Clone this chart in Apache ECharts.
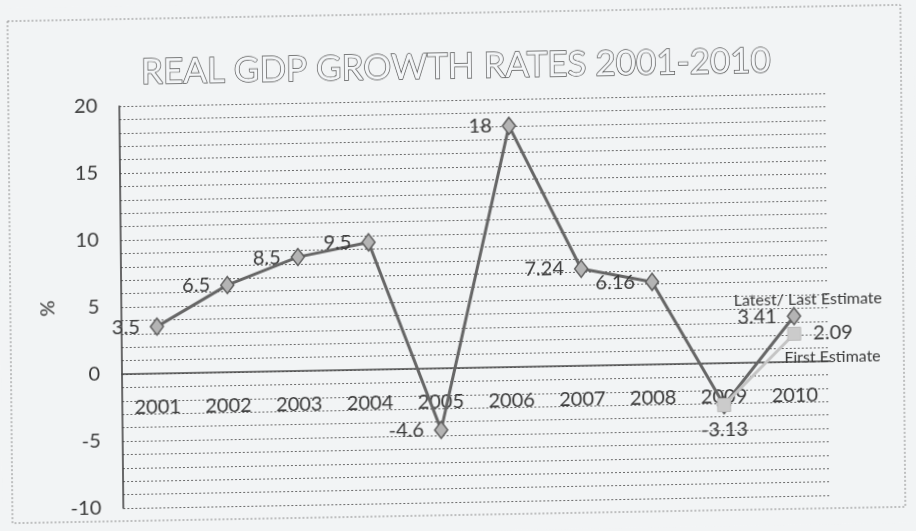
<!DOCTYPE html>
<html>
<head>
<meta charset="utf-8">
<script src="https://cdn.jsdelivr.net/npm/echarts@6/dist/echarts.min.js"></script>
<style>
  html, body { margin: 0; padding: 0; background: #f2f4f5; overflow: hidden; }
  #main {
    position: absolute; left: 0; top: 0; width: 916px; height: 531px;
    /* the scan is slightly tilted: right side higher, bottom leaning right */
    transform-origin: 458px 265px;
    transform: matrix(1, -0.0183, 0.010, 1, 0, 0);
  }
</style>
</head>
<body>
<div id="main"></div>
<script>
var years = ['2001', '2002', '2003', '2004', '2005', '2006', '2007', '2008', '2009', '2010'];
var latestEstimate = [3.5, 6.5, 8.5, 9.5, -4.6, 18, 7.24, 6.16, -3.13, 3.41];
var firstEstimate = [null, null, null, null, null, null, null, null, -3.13, 2.09];

var font = 'Lato, "Open Sans", sans-serif';

var latestData = latestEstimate.map(function (v, i) {
    // the 2009 point sits under the first-estimate square; its label is drawn there
    if (i === 8) return { value: v, label: { show: false } };
    return v;
});
var firstData = firstEstimate.map(function (v, i) {
    if (v === null) return null;
    if (i === 8) return { value: v, label: { position: 'bottom', distance: 8 } };
    return { value: v, label: { position: 'right', distance: 12 } };
});

var myChart = echarts.init(document.getElementById('main'));

myChart.setOption({
    backgroundColor: '#f2f4f5',
    animation: false,
    title: {
        text: 'REAL GDP GROWTH RATES 2001-2010',
        left: 'center',
        top: 44,
        textStyle: {
            fontFamily: font,
            fontSize: 35,
            fontWeight: 'normal',
            color: '#f4f6f8',
            textBorderColor: '#555',
            textBorderWidth: 1.4
        }
    },
    graphic: [{
        type: 'rect',
        shape: { x: 10, y: 13, width: 893, height: 502 },
        style: { fill: 'none', stroke: '#8a8a8a', lineWidth: 1, lineDash: [2, 2] },
        silent: true,
        z: -1
    }],
    grid: {
        left: 121,
        top: 100,
        width: 708,
        height: 402,
        outerBoundsMode: 'none'
    },
    xAxis: {
        type: 'category',
        data: years,
        boundaryGap: true,
        position: 'bottom',
        offset: -134,
        axisLine: { onZero: false, lineStyle: { color: '#4a4a4a', width: 1.5 } },
        axisTick: { show: false },
        axisLabel: { margin: 24, fontFamily: font, fontSize: 20, color: '#3a3a3a' },
        splitLine: { show: false }
    },
    yAxis: {
        type: 'value',
        min: -10,
        max: 20,
        interval: 5,
        name: '%',
        nameLocation: 'middle',
        nameGap: 62,
        nameRotate: 90,
        nameTextStyle: { fontFamily: font, fontSize: 20, color: '#3a3a3a' },
        axisLine: { show: true, lineStyle: { color: '#3a3a3a', width: 1.5 } },
        axisTick: { show: false },
        axisLabel: { margin: 22, fontFamily: font, fontSize: 20, color: '#3a3a3a' },
        splitLine: { show: true, lineStyle: { color: '#6a6a6a', type: [2, 2], width: 1 } },
        minorTick: { show: false, splitNumber: 5 },
        minorSplitLine: { show: true, lineStyle: { color: '#6a6a6a', type: [2, 2], width: 1 } }
    },
    series: [{
        name: 'Latest/ Last Estimate',
        type: 'line',
        data: latestData,
        symbol: 'diamond',
        symbolSize: [13, 17],
        lineStyle: { color: '#666', width: 3 },
        itemStyle: { color: '#b4b4b4', borderColor: '#5e5e5e', borderWidth: 1.5 },
        label: {
            show: true,
            position: 'left',
            distance: 10,
            fontFamily: font,
            fontSize: 20,
            color: '#3a3a3a'
        },
        markPoint: {
            symbol: 'circle',
            symbolSize: 0,
            data: [{ coord: [9, latestEstimate[9]], value: 0 }],
            label: {
                show: true,
                position: 'inside',
                offset: [14, -16],
                formatter: 'Latest/ Last Estimate',
                fontFamily: font,
                fontSize: 16,
                color: '#3a3a3a'
            }
        },
        z: 2
    }, {
        name: 'First Estimate',
        type: 'line',
        data: firstData,
        symbol: 'rect',
        symbolSize: 13,
        lineStyle: { color: '#c4c4c4', width: 3 },
        itemStyle: { color: '#cbcbcb', borderColor: '#bdbdbd', borderWidth: 1 },
        label: {
            show: true,
            fontFamily: font,
            fontSize: 20,
            color: '#3a3a3a'
        },
        markPoint: {
            symbol: 'circle',
            symbolSize: 0,
            data: [{ coord: [9, firstEstimate[9]], value: 0 }],
            label: {
                show: true,
                position: 'inside',
                offset: [38, 24],
                formatter: 'First Estimate',
                fontFamily: font,
                fontSize: 16,
                color: '#3a3a3a'
            }
        },
        z: 3
    }]
});
</script>
</body>
</html>
